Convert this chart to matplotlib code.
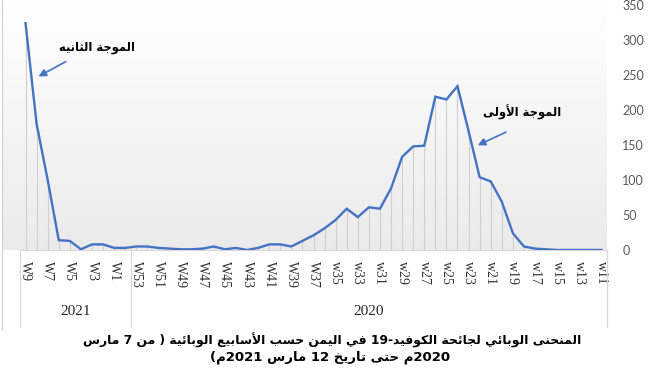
import re
import numpy as np
import matplotlib
matplotlib.use("Agg")
import matplotlib.pyplot as plt

# weekly cases, left to right as in the chart (2021 first, then 2020 backwards)
weeks_2021 = ["W9", "W8", "W7", "W6", "W5", "W4", "W3", "W2", "W1", "W0"]
cases_2021 = [324, 180, 100, 14, 13, 1, 8, 8, 3, 3]

weeks_2020 = ["W%d" % n if n >= 36 else "w%d" % n for n in range(53, 10, -1)]
cases_2020 = [5, 5, 3, 2, 1, 1, 2, 5, 1, 3,
              0, 3, 8, 8, 5, 13, 21, 31, 43, 59,
              47, 61, 59, 88, 133, 148, 149, 219, 215, 234,
              170, 104, 98, 69, 24, 5, 2, 1, 0, 0,
              0, 0, 0]

years = ["2021", "2020"]
yticks = [0, 50, 100, 150, 200, 250, 300, 350]

label_first = "الموجة الأولى"
label_second = "الموجة الثانيه"
caption_1 = "المنحنى الوبائي لجائحة الكوفيد-19 في اليمن حسب الأسابيع الوبائية ( من 7 مارس"
caption_2 = "2020م حتى تاريخ 12 مارس 2021م)"

# ---------------------------------------------------------
# arabic shaping (matplotlib has no shaping / bidi)
# ---------------------------------------------------------
FORMS = {
    "\u0621": ("\uFE80", None, None, None),
    "\u0622": ("\uFE81", "\uFE82", None, None),
    "\u0623": ("\uFE83", "\uFE84", None, None),
    "\u0624": ("\uFE85", "\uFE86", None, None),
    "\u0625": ("\uFE87", "\uFE88", None, None),
    "\u0626": ("\uFE89", "\uFE8A", "\uFE8B", "\uFE8C"),
    "\u0627": ("\uFE8D", "\uFE8E", None, None),
    "\u0628": ("\uFE8F", "\uFE90", "\uFE91", "\uFE92"),
    "\u0629": ("\uFE93", "\uFE94", None, None),
    "\u062A": ("\uFE95", "\uFE96", "\uFE97", "\uFE98"),
    "\u062B": ("\uFE99", "\uFE9A", "\uFE9B", "\uFE9C"),
    "\u062C": ("\uFE9D", "\uFE9E", "\uFE9F", "\uFEA0"),
    "\u062D": ("\uFEA1", "\uFEA2", "\uFEA3", "\uFEA4"),
    "\u062E": ("\uFEA5", "\uFEA6", "\uFEA7", "\uFEA8"),
    "\u062F": ("\uFEA9", "\uFEAA", None, None),
    "\u0630": ("\uFEAB", "\uFEAC", None, None),
    "\u0631": ("\uFEAD", "\uFEAE", None, None),
    "\u0632": ("\uFEAF", "\uFEB0", None, None),
    "\u0633": ("\uFEB1", "\uFEB2", "\uFEB3", "\uFEB4"),
    "\u0634": ("\uFEB5", "\uFEB6", "\uFEB7", "\uFEB8"),
    "\u0635": ("\uFEB9", "\uFEBA", "\uFEBB", "\uFEBC"),
    "\u0636": ("\uFEBD", "\uFEBE", "\uFEBF", "\uFEC0"),
    "\u0637": ("\uFEC1", "\uFEC2", "\uFEC3", "\uFEC4"),
    "\u0638": ("\uFEC5", "\uFEC6", "\uFEC7", "\uFEC8"),
    "\u0639": ("\uFEC9", "\uFECA", "\uFECB", "\uFECC"),
    "\u063A": ("\uFECD", "\uFECE", "\uFECF", "\uFED0"),
    "\u0641": ("\uFED1", "\uFED2", "\uFED3", "\uFED4"),
    "\u0642": ("\uFED5", "\uFED6", "\uFED7", "\uFED8"),
    "\u0643": ("\uFED9", "\uFEDA", "\uFEDB", "\uFEDC"),
    "\u0644": ("\uFEDD", "\uFEDE", "\uFEDF", "\uFEE0"),
    "\u0645": ("\uFEE1", "\uFEE2", "\uFEE3", "\uFEE4"),
    "\u0646": ("\uFEE5", "\uFEE6", "\uFEE7", "\uFEE8"),
    "\u0647": ("\uFEE9", "\uFEEA", "\uFEEB", "\uFEEC"),
    "\u0648": ("\uFEED", "\uFEEE", None, None),
    "\u0649": ("\uFEEF", "\uFEF0", None, None),
    "\u064A": ("\uFEF1", "\uFEF2", "\uFEF3", "\uFEF4"),
}
LAM_ALEF = {"\u0627": ("\uFEFB", "\uFEFC"), "\u0623": ("\uFEF7", "\uFEF8"),
            "\u0625": ("\uFEF9", "\uFEFA"), "\u0622": ("\uFEF5", "\uFEF6")}
MIRROR = str.maketrans("()", ")(")


def joins_next(c):
    f = FORMS.get(c)
    return f is not None and f[2] is not None


def accepts_prev(c):
    f = FORMS.get(c)
    return f is not None and f[1] is not None


def shape(s):
    out = []
    i = 0
    while i < len(s):
        c = s[i]
        if c not in FORMS:
            out.append(c)
            i += 1
            continue
        prev_j = i > 0 and joins_next(s[i - 1])
        if c == "\u0644" and i + 1 < len(s) and s[i + 1] in LAM_ALEF:
            iso, fin = LAM_ALEF[s[i + 1]]
            out.append(fin if prev_j else iso)
            i += 2
            continue
        next_j = i + 1 < len(s) and accepts_prev(s[i + 1])
        f = FORMS[c]
        can_next = f[2] is not None
        if prev_j and can_next and next_j:
            form = f[3]
        elif prev_j:
            form = f[1]
        elif can_next and next_j:
            form = f[2]
        else:
            form = f[0]
        out.append(form or f[0])
        i += 1
    return "".join(out)


def rtl(s):
    s = shape(s)
    parts = re.findall(r"[0-9]+|[^0-9]+", s)
    out = []
    for p in reversed(parts):
        if p.isdigit():
            out.append(p)
        else:
            out.append(p[::-1].translate(MIRROR))
    return "".join(out)


# ---------------------------------------------------------
# figure
# ---------------------------------------------------------
W, H = 660, 371
fig = plt.figure(figsize=(6.6, 3.71), dpi=100)
fig.patch.set_facecolor("white")

# gradient plot area
bg = fig.add_axes([3 / W, (H - 250) / H, 604 / W, 250 / H])
grad = np.linspace(1.0, 0.92, 100).reshape(-1, 1)
bg.imshow(np.dstack([grad, grad, grad]), aspect="auto", extent=[0, 1, 0, 1])
bg.axis("off")

ax = fig.add_axes([20 / W, (H - 250) / H, 587 / W, 245 / H])
ax.set_facecolor("none")

labels = weeks_2021 + weeks_2020
values = cases_2021 + cases_2020
x = np.arange(len(values))

ax.vlines(x, 0, values, color="#cfcfcf", lw=0.8, zorder=1)
ax.plot(x, values, color="#4472C4", lw=1.7, zorder=3, solid_joinstyle="miter")

ax.set_xlim(-0.5, len(values) - 0.5)
ax.set_ylim(0, 350)

ax.yaxis.tick_right()
ax.set_yticks(yticks)
ax.tick_params(axis="y", length=0, pad=11, labelsize=9, labelcolor="#595959")
for t in ax.get_yticklabels():
    t.set_fontfamily("Lato")

ax.set_xticks(x[::2])
ax.set_xticklabels(labels[::2], rotation=270, fontsize=10, family="Liberation Serif",
                   color="#333333")
ax.tick_params(axis="x", length=0, pad=8)

for s in ["left", "right", "top"]:
    ax.spines[s].set_visible(False)
ax.spines["bottom"].set_color("#d9d9d9")

# year group separators and labels
n21 = len(cases_2021)
tr = ax.get_xaxis_transform()
for xv in [-0.5, n21 - 0.5, len(values) - 0.5]:
    ax.plot([xv, xv], [0, -0.315], transform=tr, color="#d9d9d9", lw=0.9, clip_on=False)
ax.text((n21 - 1) / 2, -0.253, years[0], transform=tr, ha="center", va="center",
        fontsize=11, family="Liberation Serif", color="#262626")
ax.text((n21 + len(values) - 1) / 2, -0.253, years[1], transform=tr, ha="center",
        va="center", fontsize=11, family="Liberation Serif", color="#262626")

# wave annotations
ax.annotate("", xy=(0.95, 246), xytext=(3.85, 271),
            arrowprops=dict(arrowstyle="-|>", color="#4472C4", lw=1.2, mutation_scale=11))
ax.text(6.45, 290, rtl(label_second), ha="center", va="center", fontsize=8.3,
        fontweight="bold", family="DejaVu Sans")
ax.annotate("", xy=(40.6, 148), xytext=(43.6, 170),
            arrowprops=dict(arrowstyle="-|>", color="#4472C4", lw=1.2, mutation_scale=11))
ax.text(44.8, 196, rtl(label_first), ha="center", va="center", fontsize=8.3,
        fontweight="bold", family="DejaVu Sans")

# caption
fig.text(332 / W, 1 - 340 / H, rtl(caption_1), ha="center", va="center", fontsize=8.9,
         fontweight="bold", family="DejaVu Sans")
fig.text(330 / W, 1 - 357 / H, rtl(caption_2), ha="center", va="center", fontsize=9.5,
         fontweight="bold", family="DejaVu Sans")

# thin frame on the left edge of the picture
fig.add_artist(plt.Line2D([2 / W, 2 / W], [1 - 330 / H, 1], transform=fig.transFigure,
                          color="#d0d0d0", lw=0.8))

fig.savefig("out.png", dpi=100)
